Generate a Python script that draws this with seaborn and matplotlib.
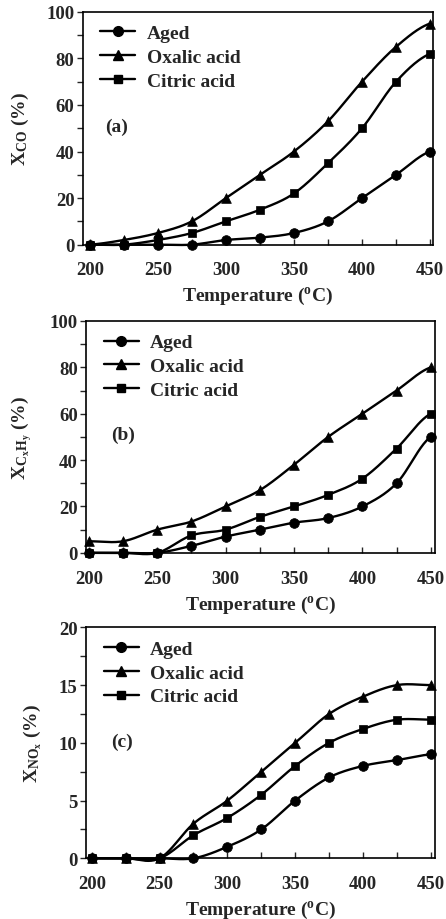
import numpy as np
import pandas as pd
import matplotlib
matplotlib.use("Agg")
import matplotlib.pyplot as plt
from matplotlib.lines import Line2D
from matplotlib.ticker import MultipleLocator
import seaborn as sns

# ---------------- data ----------------
temperature = [200, 225, 250, 275, 300, 325, 350, 375, 400, 425, 450]
series_names = ["Aged", "Oxalic acid", "Citric acid"]

co_aged = [0, 0, 0, 0, 2, 3, 5, 10, 20, 30, 40]
co_oxalic = [0, 2, 5, 10, 20, 30, 40, 53, 70, 85, 95]
co_citric = [0, 0, 2, 5, 10, 15, 22, 35, 50, 70, 82]

hc_aged = [0, 0, 0, 3, 7, 10, 13, 15, 20, 30, 50]
hc_oxalic = [5, 5, 10, 13.5, 20, 27, 38, 50, 60, 70, 80]
hc_citric = [0, 0, 0, 7.5, 10, 15.5, 20, 25, 32, 45, 60]

nox_aged = [0, 0, 0, 0, 1, 2.5, 5, 7, 8, 8.5, 9]
nox_oxalic = [0, 0, 0, 3, 5, 7.5, 10, 12.5, 14, 15, 15]
nox_citric = [0, 0, 0, 2, 3.5, 5.5, 8, 10, 11.2, 12, 12]

panel_labels = ["(a)", "(b)", "(c)"]
y_labels = [r"X$_{\mathrm{CO}}$ (%)",
            r"X$_{\mathrm{C}_{x}\mathrm{H}_{y}}$ (%)",
            r"X$_{\mathrm{NO}_{x}}$ (%)"]
x_label = r"Temperature ($^{\mathrm{o}}$C)"

# ---------------- style ----------------
sns.set_style("ticks")
plt.rcParams["font.family"] = ["Liberation Serif", "DejaVu Serif"]
plt.rcParams["font.weight"] = "bold"
plt.rcParams["axes.labelweight"] = "bold"
plt.rcParams["mathtext.fontset"] = "custom"
plt.rcParams["mathtext.rm"] = "Liberation Serif:bold"
plt.rcParams["mathtext.bf"] = "Liberation Serif:bold"
plt.rcParams["mathtext.it"] = "Liberation Serif:bold"
plt.rcParams["mathtext.default"] = "rm"

FS = 14
TFS = 13.5


def catmull_rom(x, y, n=24):
    """Smooth curve through the data points (Excel-style smoothed line)."""
    x = np.asarray(x, float)
    y = np.asarray(y, float)
    px = np.concatenate([[2 * x[0] - x[1]], x, [2 * x[-1] - x[-2]]])
    py = np.concatenate([[y[0]], y, [y[-1]]])
    xs, ys = [], []
    t = np.linspace(0, 1, n, endpoint=False)
    for i in range(1, len(px) - 2):
        for P, out in ((px[i - 1:i + 3], xs), (py[i - 1:i + 3], ys)):
            a, b, c, d = P
            out.extend(0.5 * ((2 * b) + (-a + c) * t + (2 * a - 5 * b + 4 * c - d) * t ** 2
                              + (-a + 3 * b - 3 * c + d) * t ** 3))
    xs.append(x[-1])
    ys.append(y[-1])
    return np.array(xs), np.array(ys)


panels = [
    (co_aged, co_oxalic, co_citric, 100, 20, 10),
    (hc_aged, hc_oxalic, hc_citric, 100, 20, 10),
    (nox_aged, nox_oxalic, nox_citric, 20, 5, 2.5),
]
positions = [
    [0.186, 0.733, 0.785, 0.253],
    [0.193, 0.398, 0.782, 0.252],
    [0.193, 0.066, 0.782, 0.251],
]
xlims = [(195, 452.2), (198, 453), (195.8, 453)]
markers = ["o", "^", "s"]
msizes = [7, 7, 6.2]
label_pos = [(0.097, 0.51), (0.106, 0.513), (0.103, 0.506)]

fig = plt.figure(figsize=(4.46, 9.2), dpi=100)

for k, (aged, oxalic, citric, ymax, ymaj, ymin) in enumerate(panels):
    ax = fig.add_axes(positions[k])
    for name, vals, mk, ms in zip(series_names, (aged, oxalic, citric), markers, msizes):
        sx, sy = catmull_rom(temperature, vals)
        sns.lineplot(x=sx, y=sy, color="black", lw=1.7, ax=ax, sort=False,
                     estimator=None, clip_on=False, zorder=3)
        sns.scatterplot(x=temperature, y=vals, marker=mk, s=ms ** 2, color="black",
                        edgecolor="black", linewidth=0.5, ax=ax, clip_on=False,
                        zorder=4, legend=False)
    ax.set_xlim(*xlims[k])
    ax.set_ylim(0, ymax)
    ax.xaxis.set_major_locator(MultipleLocator(50))
    ax.xaxis.set_minor_locator(MultipleLocator(25))
    ax.yaxis.set_major_locator(MultipleLocator(ymaj))
    ax.yaxis.set_minor_locator(MultipleLocator(ymin))
    ax.tick_params(axis="x", which="both", direction="in", length=4, width=1,
                   labelsize=TFS, pad=12)
    ax.tick_params(axis="y", which="both", direction="out", length=4, width=1,
                   labelsize=TFS, pad=2)
    for lab in ax.get_xticklabels() + ax.get_yticklabels():
        lab.set_fontweight("bold")
    for sp in ax.spines.values():
        sp.set_visible(True)
        sp.set_linewidth(1.2)
        sp.set_color("black")
    ax.set_xlabel(x_label, fontsize=FS, fontweight="bold", labelpad=5)
    ax.set_ylabel(y_labels[k], fontsize=FS, fontweight="bold", labelpad=11)
    ax.text(label_pos[k][0], label_pos[k][1], panel_labels[k], transform=ax.transAxes,
            fontsize=FS, fontweight="bold", va="center", ha="center")
    handles = [Line2D([0], [0], color="black", lw=1.7, marker=mk, markersize=ms)
               for mk, ms in zip(markers, msizes)]
    leg = ax.legend(handles, series_names, loc="upper left", frameon=False,
                    fontsize=FS, handlelength=1.8, handletextpad=0.6,
                    labelspacing=0.32, borderaxespad=0.0, borderpad=0.0,
                    bbox_to_anchor=(0.05, 0.945))
    for t in leg.get_texts():
        t.set_fontweight("bold")

fig.savefig("out.png", dpi=100)
